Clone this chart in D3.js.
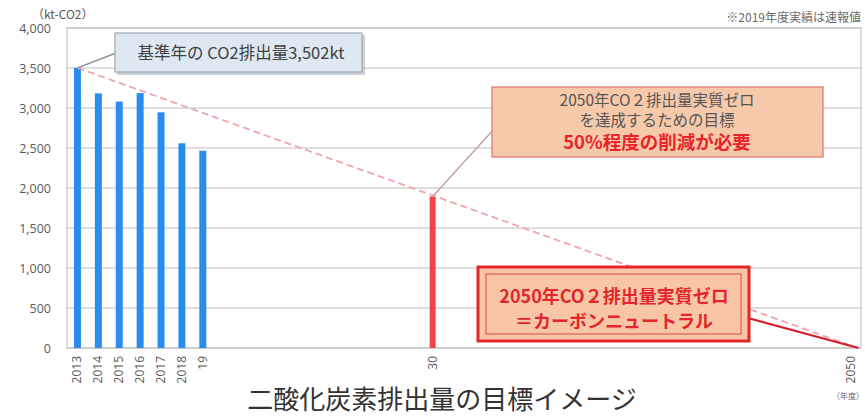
<!DOCTYPE html>
<html><head><meta charset="utf-8">
<script src="https://cdn.jsdelivr.net/npm/d3@7"></script>
<style>
html,body{margin:0;padding:0;background:#fff;overflow:hidden}
svg{display:block;font-family:"Noto Sans CJK JP","Noto Sans",sans-serif}
</style></head><body>
<svg id="c" width="865" height="417"></svg>
<script>
// ---- data ----
const years = d3.range(2013, 2051);           // category axis 2013..2050
const actualYears = [2013, 2014, 2015, 2016, 2017, 2018, 2019];
const actualValues = [3502, 3183, 3080, 3186, 2946, 2559, 2466];
const targetYears = [2030];
const targetValues = [1893];
const pathYears = [2013, 2050];
const pathValues = [3502, 0];
const yTicks = [0, 500, 1000, 1500, 2000, 2500, 3000, 3500, 4000];
const xLabels = {2013:"2013",2014:"2014",2015:"2015",2016:"2016",2017:"2017",2018:"2018",2019:"19",2030:"30",2050:"2050"};

const svg = d3.select("#c");
const L = 67, R = 861, T = 28, B = 348;
const x = d3.scaleBand().domain(years).range([L, R]).padding(0);
const y = d3.scaleLinear().domain([0, 4000]).range([B, T]);
const cx = d => x(d) + x.bandwidth() / 2;
const barW = 7;

// gridlines
svg.append("g").selectAll("line").data(yTicks).join("line")
  .attr("x1", L).attr("x2", R).attr("y1", d => y(d)).attr("y2", d => y(d))
  .attr("stroke", "#bdbdbd").attr("stroke-width", 1.2);
// frame
svg.append("rect").attr("x", L).attr("y", T).attr("width", R - L).attr("height", B - T)
  .attr("fill", "none").attr("stroke", "#c4c4c4").attr("stroke-width", 1.2);

// y axis labels
const yAxis = d3.axisLeft(y).tickValues(yTicks).tickSize(0).tickPadding(0)
  .tickFormat(d3.format(","));
const ya = svg.append("g").attr("transform", `translate(${L - 16},0)`).call(yAxis);
ya.select(".domain").remove();
ya.selectAll("text").attr("fill", "#595959").style("font-size", "12.5px")
  .style("font-family", "'Open Sans','Noto Sans',sans-serif");

// x labels (rotated)
const xa = svg.append("g");
Object.keys(xLabels).forEach(k => {
  const yr = +k;
  xa.append("text").attr("transform", `translate(${cx(yr) + 4},${B + 8}) rotate(-90)`)
    .attr("text-anchor", "end").attr("fill", "#595959")
    .style("font-size", "12px").style("font-family", "'Open Sans','Noto Sans',sans-serif")
    .text(xLabels[k]);
});

// bars
svg.append("g").selectAll("rect").data(actualYears).join("rect")
  .attr("x", (d) => cx(d) - barW / 2).attr("width", barW)
  .attr("y", (d, i) => y(actualValues[i])).attr("height", (d, i) => B - y(actualValues[i]))
  .attr("fill", "#2b8cf0");
svg.append("g").selectAll("rect").data(targetYears).join("rect")
  .attr("x", d => cx(d) - 3).attr("width", 6)
  .attr("y", (d, i) => y(targetValues[i])).attr("height", (d, i) => B - y(targetValues[i]))
  .attr("fill", "#f2434b");

// dashed path line
const p0 = [cx(pathYears[0]), y(pathValues[0])];
const p1 = [cx(pathYears[1]) + 7, y(pathValues[1])];
svg.append("line").attr("x1", p0[0]).attr("y1", p0[1]).attr("x2", p1[0]).attr("y2", p1[1])
  .attr("stroke", "#f2a3aa").attr("stroke-width", 1.8).attr("stroke-dasharray", "7,4");

// callout 1
svg.append("line").attr("x1", p0[0]).attr("y1", p0[1]).attr("x2", 116).attr("y2", 53)
  .attr("stroke", "#8b9199").attr("stroke-width", 1.5);
svg.append("rect").attr("x", 117).attr("y", 35).attr("width", 248).attr("height", 40)
  .attr("fill", "#9aa3ad").attr("opacity", 0.5);
svg.append("rect").attr("x", 115).attr("y", 33).attr("width", 247).attr("height", 39)
  .attr("fill", "#dde8f3").attr("stroke", "#9da7b2").attr("stroke-width", 1.2);
svg.append("text").attr("x", 241).attr("y", 59).attr("text-anchor", "middle")
  .attr("fill", "#404040").style("font-size", "16.5px").text("基準年の CO2排出量3,502kt");

// callout 2
const t30 = [cx(2030), y(targetValues[0])];
svg.append("line").attr("x1", t30[0]).attr("y1", t30[1]).attr("x2", 495).attr("y2", 128)
  .attr("stroke", "#c49a9e").attr("stroke-width", 1.3);
svg.append("rect").attr("x", 492).attr("y", 87).attr("width", 331).attr("height", 70)
  .attr("fill", "#f7c9ab").attr("stroke", "#e07b74").attr("stroke-width", 1.3);
const c2 = svg.append("g").attr("text-anchor", "middle");
c2.append("text").attr("x", 657).attr("y", 106).attr("fill", "#555").style("font-size", "15.5px").text("2050年CO２排出量実質ゼロ");
c2.append("text").attr("x", 657).attr("y", 126).attr("fill", "#555").style("font-size", "15.5px").text("を達成するための目標");
c2.append("text").attr("x", 657).attr("y", 149).attr("fill", "#e8252a").style("font-size", "18.5px").style("font-weight", "bold").text("50%程度の削減が必要");

// callout 3
svg.append("line").attr("x1", 748).attr("y1", 318).attr("x2", p1[0] + 1).attr("y2", p1[1])
  .attr("stroke", "#d71f2b").attr("stroke-width", 2.2);
svg.append("rect").attr("x", 478).attr("y", 267).attr("width", 271).attr("height", 74)
  .attr("fill", "#f8c6a6").attr("stroke", "#e3262c").attr("stroke-width", 3);
svg.append("rect").attr("x", 486).attr("y", 274).attr("width", 255).attr("height", 60)
  .attr("fill", "none").attr("stroke", "#d9605a").attr("stroke-width", 1.2);
const c3 = svg.append("g").attr("text-anchor", "middle").attr("fill", "#e2262b")
  .style("font-size", "18px").style("font-weight", "bold");
c3.append("text").attr("x", 614).attr("y", 303).text("2050年CO２排出量実質ゼロ");
c3.append("text").attr("x", 614).attr("y", 328).text("＝カーボンニュートラル");

// unit, note, year label, title
svg.append("text").attr("x", 32).attr("y", 19).attr("fill", "#595959").style("font-size", "12px").text("（kt-CO2）");
svg.append("text").attr("x", 861).attr("y", 22).attr("text-anchor", "end").attr("fill", "#6a6a6a").style("font-size", "12px").text("※2019年度実績は速報値");
svg.append("text").attr("x", 864).attr("y", 399).attr("text-anchor", "end").attr("fill", "#6a6a6a").style("font-size", "8px").text("（年度）");
svg.append("text").attr("x", 442).attr("y", 409).attr("text-anchor", "middle").attr("fill", "#333")
  .style("font-size", "26px").text("二酸化炭素排出量の目標イメージ");
</script>
</body></html>
